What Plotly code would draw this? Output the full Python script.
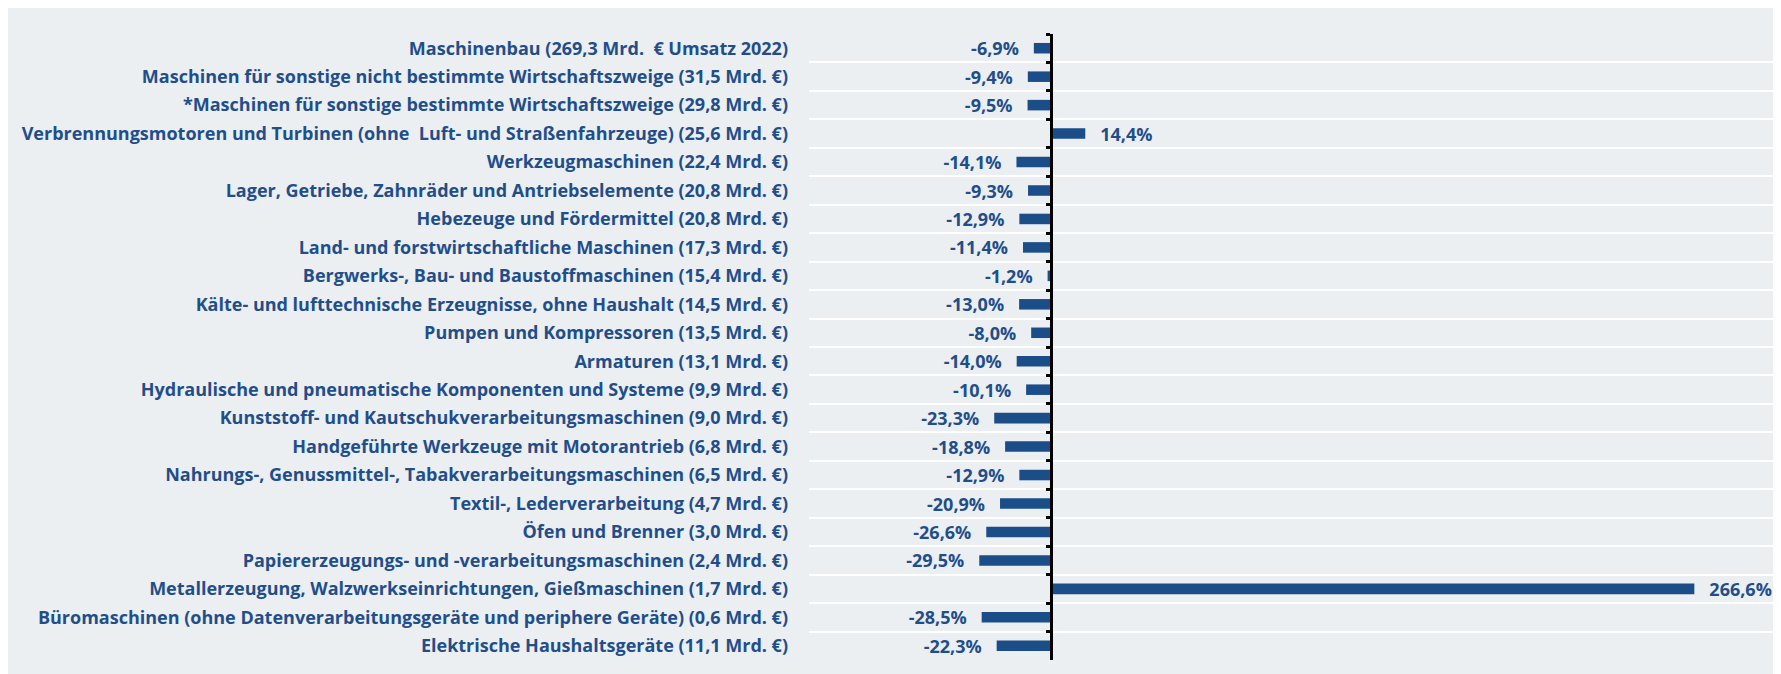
import plotly.graph_objects as go

categories = [
    "Maschinenbau (269,3 Mrd.  € Umsatz 2022)",
    "Maschinen für sonstige nicht bestimmte Wirtschaftszweige (31,5 Mrd. €)",
    "*Maschinen für sonstige bestimmte Wirtschaftszweige (29,8 Mrd. €)",
    "Verbrennungsmotoren und Turbinen (ohne  Luft- und Straßenfahrzeuge) (25,6 Mrd. €)",
    "Werkzeugmaschinen (22,4 Mrd. €)",
    "Lager, Getriebe, Zahnräder und Antriebselemente (20,8 Mrd. €)",
    "Hebezeuge und Fördermittel (20,8 Mrd. €)",
    "Land- und forstwirtschaftliche Maschinen (17,3 Mrd. €)",
    "Bergwerks-, Bau- und Baustoffmaschinen (15,4 Mrd. €)",
    "Kälte- und lufttechnische Erzeugnisse, ohne Haushalt (14,5 Mrd. €)",
    "Pumpen und Kompressoren (13,5 Mrd. €)",
    "Armaturen (13,1 Mrd. €)",
    "Hydraulische und pneumatische Komponenten und Systeme (9,9 Mrd. €)",
    "Kunststoff- und Kautschukverarbeitungsmaschinen (9,0 Mrd. €)",
    "Handgeführte Werkzeuge mit Motorantrieb (6,8 Mrd. €)",
    "Nahrungs-, Genussmittel-, Tabakverarbeitungsmaschinen (6,5 Mrd. €)",
    "Textil-, Lederverarbeitung (4,7 Mrd. €)",
    "Öfen und Brenner (3,0 Mrd. €)",
    "Papiererzeugungs- und -verarbeitungsmaschinen (2,4 Mrd. €)",
    "Metallerzeugung, Walzwerkseinrichtungen, Gießmaschinen (1,7 Mrd. €)",
    "Büromaschinen (ohne Datenverarbeitungsgeräte und periphere Geräte) (0,6 Mrd. €)",
    "Elektrische Haushaltsgeräte (11,1 Mrd. €)",
]

changes = [-6.9, -9.4, -9.5, 14.4, -14.1, -9.3, -12.9, -11.4, -1.2, -13.0, -8.0,
           -14.0, -10.1, -23.3, -18.8, -12.9, -20.9, -26.6, -29.5, 266.6, -28.5, -22.3]

x_range = [-100, 300]

BLUE_BAR = "#1B4D89"
BLUE_TXT = "#1F4E8B"
BG = "#ECEFF1"
FONT = "Open Sans"

W, H = 1781, 674
ml, mr, mt, mb = 801, 14, 26, 22

gap_neg = "\u2002\u2009"
gap_pos = "\u2002\u2009"


def fmt(v):
    s = f"{v:.1f}".replace(".", ",") + "%"
    return (s + gap_neg) if v < 0 else (gap_pos + s)


labels = [fmt(v) for v in changes]
n = len(categories)
yr = [n - 0.5, -0.5]

fig = go.Figure()
fig.add_trace(go.Bar(
    x=changes, y=categories, orientation="h",
    marker=dict(color=BLUE_BAR, line=dict(width=0)),
    width=0.37,
    text=labels, textposition="outside", constraintext="none",
    textfont=dict(family=FONT, size=18, color=BLUE_TXT, weight="bold"),
    cliponaxis=False, hoverinfo="skip",
))
# invisible trace carrying the categories for the axis drawn at zero
fig.add_trace(go.Scatter(
    x=[0] * n, y=categories, yaxis="y2", mode="markers",
    marker=dict(opacity=0), hoverinfo="skip", showlegend=False,
))

zero_pos = (0 - x_range[0]) / (x_range[1] - x_range[0])

fig.update_layout(
    width=W, height=H,
    margin=dict(l=ml, r=mr, t=mt, b=mb, pad=0),
    paper_bgcolor=BG,
    plot_bgcolor=BG,
    showlegend=False,
    xaxis=dict(range=x_range, showgrid=False, zeroline=False, showticklabels=False,
               showline=False, ticks=""),
    yaxis=dict(type="category", categoryorder="array", categoryarray=categories,
               range=yr, showgrid=True, gridcolor="white", gridwidth=2,
               tickson="boundaries", ticks="", showline=False, zeroline=False,
               ticklabelstandoff=20,
               tickfont=dict(family=FONT, size=18, color=BLUE_TXT, weight="bold")),
    yaxis2=dict(type="category", categoryorder="array", categoryarray=categories,
                range=yr, overlaying="y", anchor="free", position=zero_pos, side="left",
                showline=True, linecolor="black", linewidth=3,
                ticks="outside", ticklen=4, tickwidth=3, tickcolor="black",
                tickson="boundaries", showticklabels=False, showgrid=False, zeroline=False),
)

fig.write_html("out.html")
